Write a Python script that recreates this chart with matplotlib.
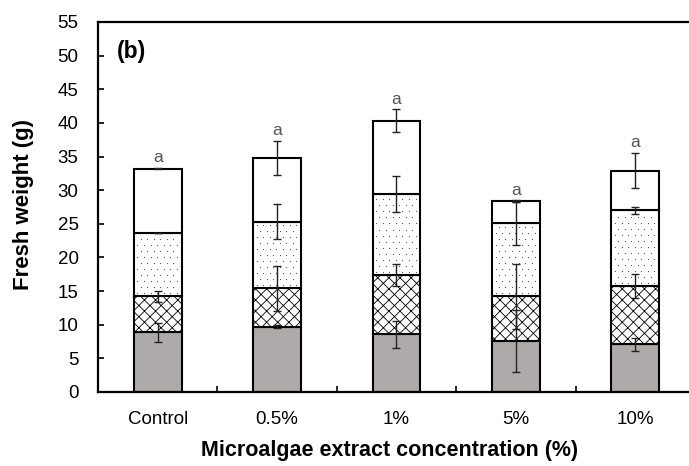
import matplotlib
matplotlib.use("Agg")
import matplotlib.pyplot as plt
import numpy as np

plt.rcParams['font.family'] = ['Liberation Sans', 'DejaVu Sans']
plt.rcParams['hatch.linewidth'] = 0.6

categories = ["Control", "0.5%", "1%", "5%", "10%"]
seg1 = [8.9, 9.7, 8.6, 7.6, 7.1]          # gray
seg2 = [5.3, 5.7, 8.8, 6.6, 8.6]          # crosshatch
seg3 = [9.4, 9.9, 12.0, 10.9, 11.3]       # dots
seg4 = [9.6, 9.5, 10.9, 3.3, 5.9]         # white
err1 = [1.4, 0.2, 2.0, 4.6, 1.0]
err2 = [0.8, 3.3, 1.6, 4.9, 1.8]
err3 = [0.0, 2.6, 2.7, 3.2, 0.5]
err4 = [0.1, 2.5, 1.7, 0.1, 2.6]
letters = ["a", "a", "a", "a", "a"]

fig = plt.figure(figsize=(6.89, 4.66), dpi=100)
ax = fig.add_axes([0.1422, 0.1588, 0.8665, 0.794])

x = np.arange(len(categories))
w = 0.4
segs = [seg1, seg2, seg3, seg4]
errs = [err1, err2, err3, err4]
faces = ['#AEAAAA', 'white', 'white', 'white']
hatches = [None, 'xxx', None, None]
bottom = np.zeros(len(categories))
for i, s in enumerate(segs):
    s = np.array(s)
    ax.bar(x, s, w, bottom=bottom, color=faces[i], edgecolor='black',
           linewidth=1.5, hatch=hatches[i], zorder=2)
    if i == 2:
        for xi, b, h in zip(x, bottom, s):
            ys = np.arange(b + 0.45, b + h - 0.2, 0.9)
            for k, yv in enumerate(ys):
                off = 0.0 if k % 2 == 0 else 0.027
                xs = np.arange(xi - w/2 + 0.03 + off, xi + w/2 - 0.015, 0.055)
                ax.scatter(xs, np.full_like(xs, yv), s=0.8, color='#555555',
                           linewidths=0, zorder=3)
    bottom = bottom + s

bottom = np.zeros(len(categories))
for s, e in zip(segs, errs):
    top = bottom + np.array(s)
    ax.errorbar(x, top, yerr=e, fmt='none', ecolor='#222222',
                elinewidth=1.0, capsize=3, capthick=1.0, zorder=4)
    bottom = top

totals = bottom
for xi, t, e, lab in zip(x, totals, err4, letters):
    ax.text(xi, t + e + 0.4, lab, ha='center', va='bottom', fontsize=12.5,
            color='#555555')

ax.set_xlim(-0.5, 4.5)
ax.set_ylim(0, 55)
ax.set_yticks(np.arange(0, 56, 5))
ax.set_xticks(x)
ax.set_xticklabels(categories, fontsize=13.5)
ax.set_xticks(np.arange(0.5, 4.5, 1), minor=True)
ax.tick_params(axis='x', which='major', length=0, pad=13.5)
ax.tick_params(axis='x', which='minor', direction='in', length=4, width=1.2)
ax.tick_params(axis='y', direction='in', length=4, width=1.2, labelsize=13.5, pad=14)
for sp in ['left', 'bottom', 'top']:
    ax.spines[sp].set_linewidth(1.6)
ax.spines['right'].set_visible(False)

ax.set_ylabel("Fresh weight (g)", fontsize=16, fontweight='bold',
              va='center', ha='center')
ax.yaxis.set_label_coords(-0.124, 0.508)
ax.set_xlabel("Microalgae extract concentration (%)", fontsize=15.5,
              fontweight='bold', va='center', ha='center')
ax.xaxis.set_label_coords(0.489, -0.159)
ax.text(0.032, 0.92, "(b)", transform=ax.transAxes, fontsize=16.5,
        fontweight='bold', ha='left', va='center')

fig.savefig("out.png", dpi=100)
